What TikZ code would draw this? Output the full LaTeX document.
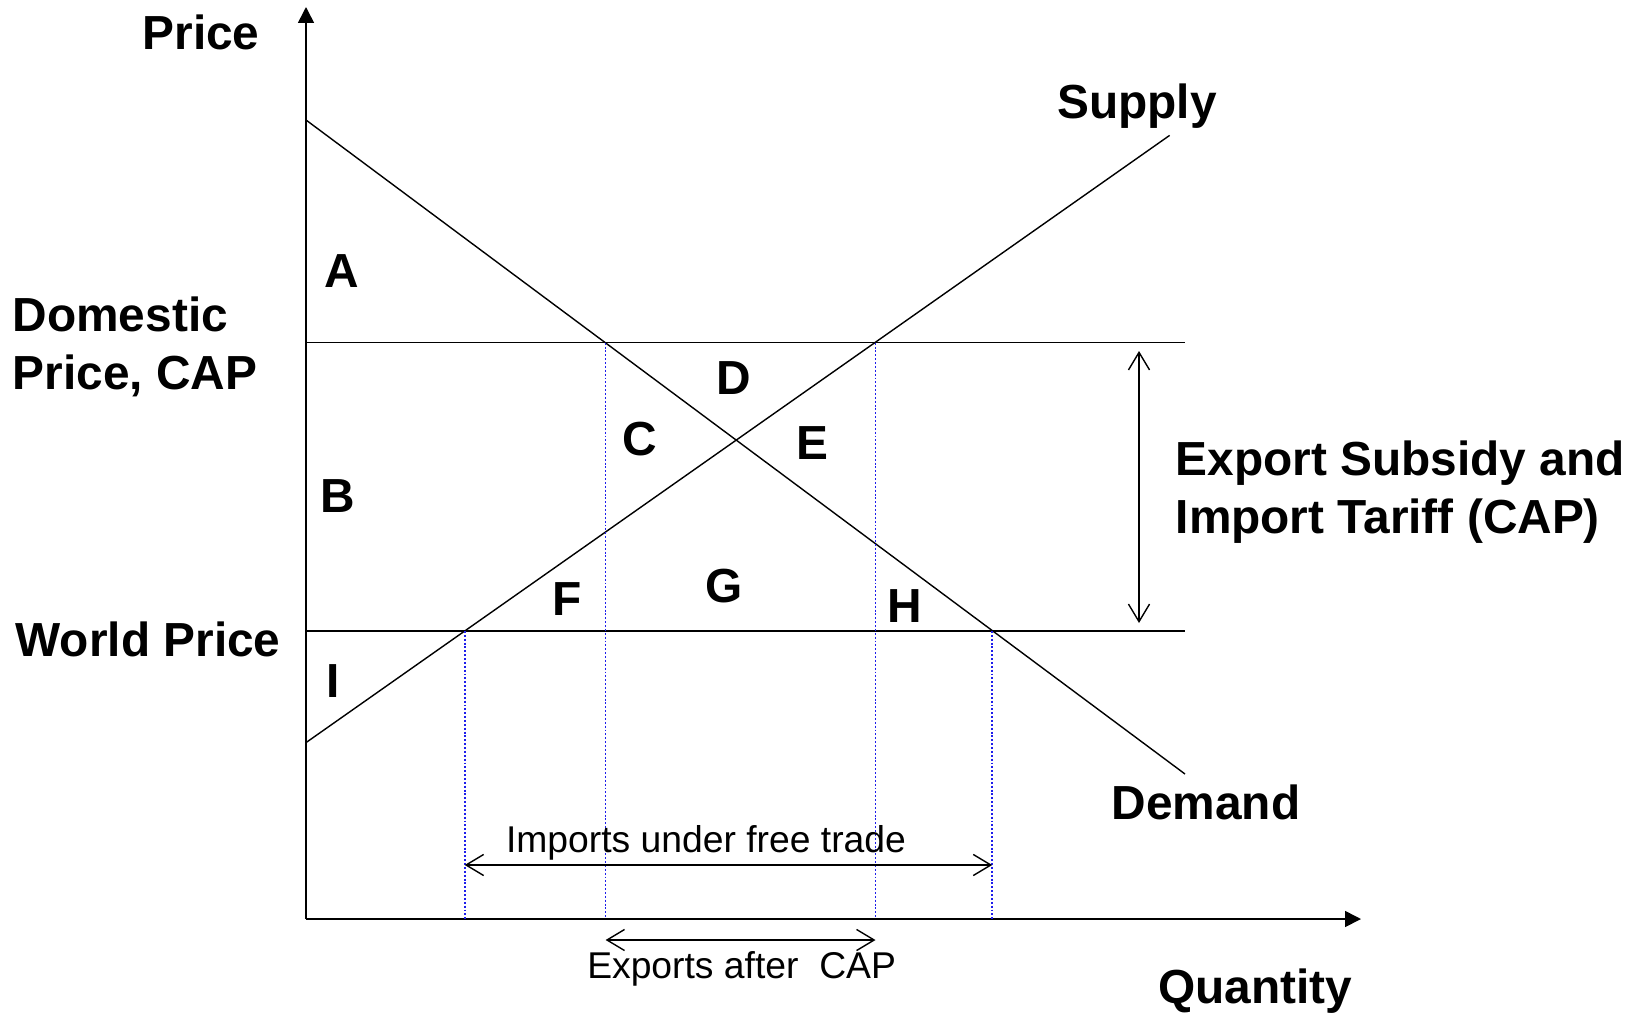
\documentclass[tikz,border=0pt]{standalone}
\usepackage{fontspec}
\setmainfont{Liberation Sans}
\usetikzlibrary{arrows.meta,positioning}

\begin{document}
\begin{tikzpicture}[x=0.01cm,y=-0.01cm,
  lbl/.style={inner sep=0pt,font=\fontsize{13.6}{16.3}\selectfont\bfseries},
  note/.style={inner sep=0pt,font=\fontsize{10.6}{12}\selectfont},
  curve/.style={line width=0.4pt},
  drop/.style={draw={rgb,255:red,30;green,30;blue,235},line width=0.5pt,dash pattern=on 0.55pt off 0.55pt},
  span/.style={{Straight Barb[length=5pt,width=6pt]}-{Straight Barb[length=5pt,width=6pt]},line width=0.4pt}]
  \useasboundingbox (0,0) rectangle (1633,1015);
  % Axes
  \coordinate (O)    at (306,919);
  \coordinate (ytop) at (306,7);
  \coordinate (xend) at (1361,919);
  \draw[-{Triangle[length=4.5pt,width=4.5pt]},line width=0.45pt] (O) -- (ytop);
  \draw[-{Triangle[length=4.5pt,width=4.5pt]},line width=0.45pt] (O) -- (xend);
  % Curves and price lines
  \coordinate (dem0) at (306,120);
  \coordinate (dem1) at (1185,774);
  \coordinate (sup0) at (306,742.6);
  \coordinate (sup1) at (1169.6,135.4);
  \coordinate (pd0)  at (306,342.7);
  \coordinate (pd1)  at (1185,342.7);
  \coordinate (pw0)  at (306,631);
  \coordinate (pw1)  at (1185,631);
  \draw[curve] (dem0) -- (dem1);
  \draw[curve] (sup0) -- (sup1);
  \draw[curve,line width=0.45pt] (pd0) -- (pd1);
  \draw[curve,line width=0.45pt] (pw0) -- (pw1);
  % Quantities
  \coordinate (qa) at (464.7,631);
  \coordinate (qb) at (605.6,342.7);
  \coordinate (qc) at (875.5,342.7);
  \coordinate (qd) at (992.2,631);
  \foreach \q in {qa,qb,qc,qd}
    \draw[drop] (\q) -- (\q |- O);
  % Spans
  \coordinate (imp0) at (qa |- 0,865);
  \coordinate (imp1) at (qd |- 0,865);
  \coordinate (exp0) at (qb |- 0,940);
  \coordinate (exp1) at (qc |- 0,940);
  \coordinate (sub0) at (1139,351);
  \coordinate (sub1) at (1139,623);
  \draw[span] (imp0) -- (imp1);
  \draw[span] (exp0) -- (exp1);
  \draw[span] (sub0) -- (sub1);
  % Labels
  \node[lbl] (price) at (201,32) {Price};
  \node[lbl] (qty) at (1255,991) {Quantity};
  \node[lbl] (supply) at (1137,106) {Supply};
  \node[lbl] (demand) at (1206,802) {Demand};
  \node[lbl,anchor=west,align=left] (dom) at (12,347) {Domestic\\Price, CAP};
  \node[lbl,anchor=west,align=left,font=\fontsize{13.6}{16.7}\selectfont\bfseries] (subsidy) at (1175,492) {Export Subsidy and\\Import Tariff (CAP)};
  \node[lbl,anchor=west] (world) at (15,639.5) {World Price};
  \node[lbl] (A) at (341.6,271) {A};
  \node[lbl] (B) at (337.5,495.8) {B};
  \node[lbl] (C) at (639.5,439.5) {C};
  \node[lbl] (D) at (734,378) {D};
  \node[lbl] (E) at (812,442.6) {E};
  \node[lbl] (F) at (566.6,599) {F};
  \node[lbl] (G) at (724,586) {G};
  \node[lbl] (H) at (905,606) {H};
  \node[lbl] (I) at (333,681) {I};
  \node[note] (imports) at (706,843) {Imports under free trade};
  \node[note] (exports) at (741.6,969) {Exports after \ CAP};
\end{tikzpicture}
\end{document}
